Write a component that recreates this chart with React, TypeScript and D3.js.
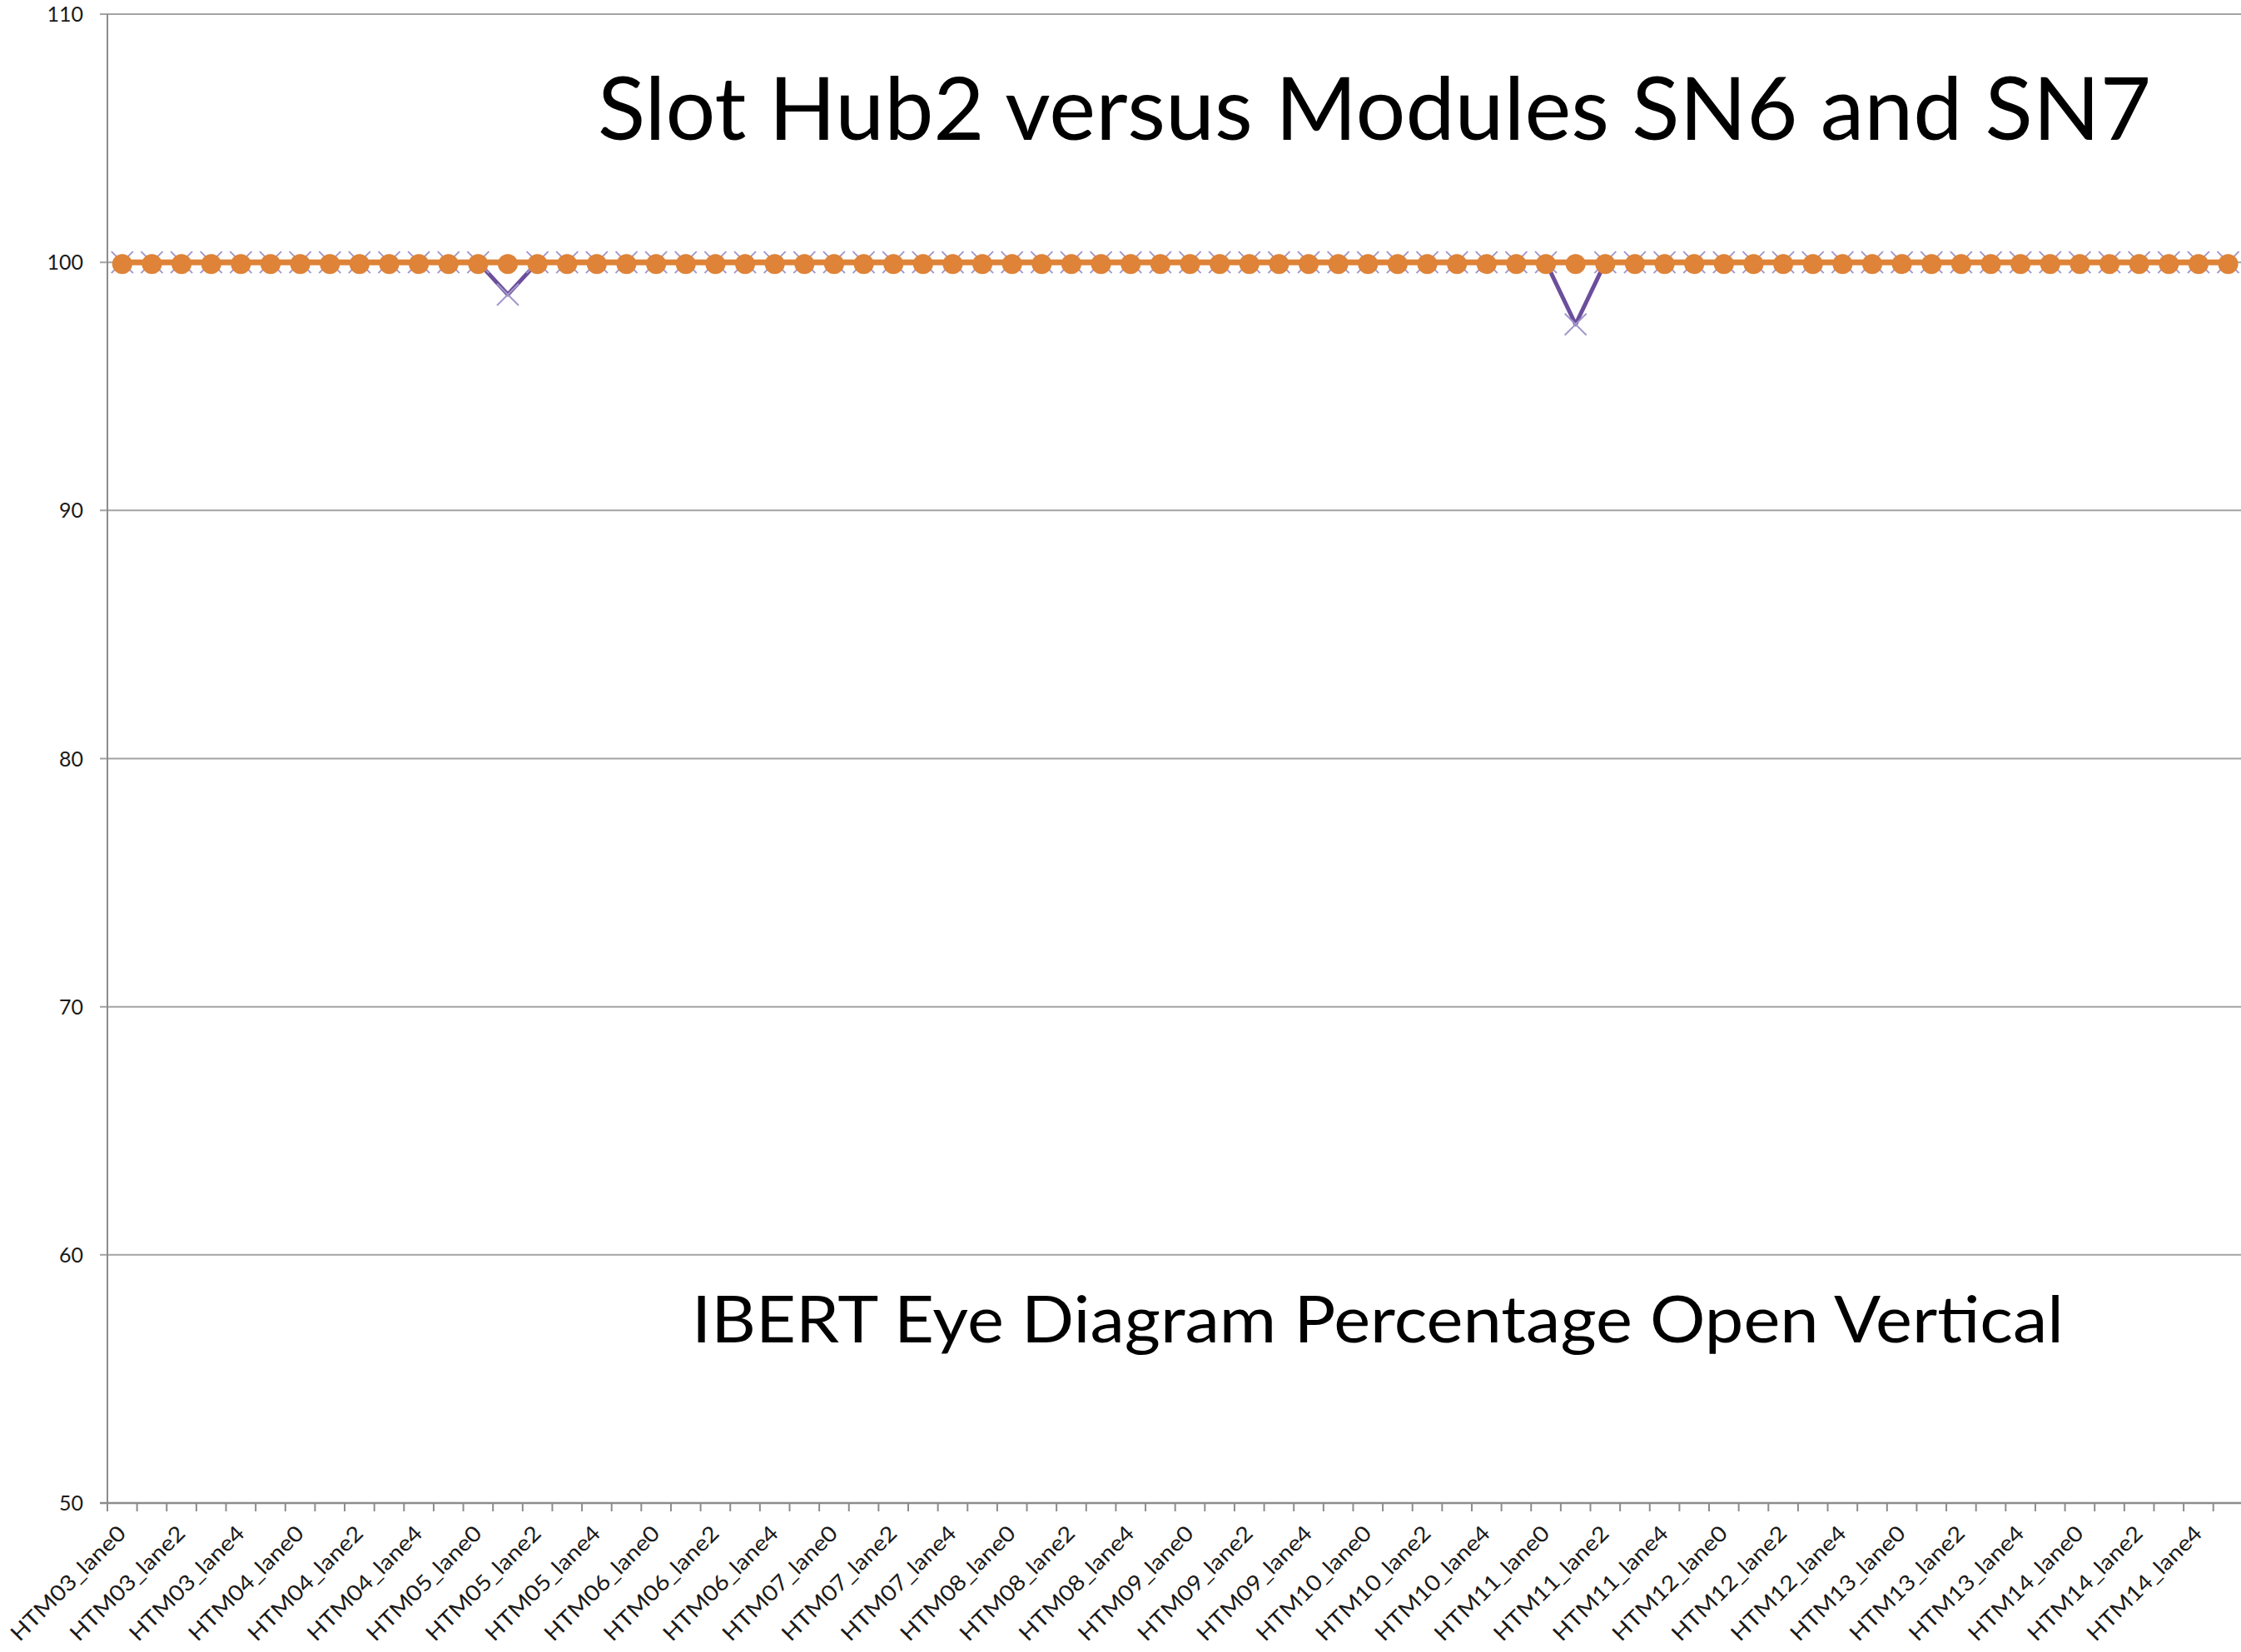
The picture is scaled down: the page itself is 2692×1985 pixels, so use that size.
import React, { useEffect, useRef } from 'react';
import * as d3 from 'd3';

// category names along the x axis (12 modules x 6 lanes)
const categories = [
  'HTM03_lane0', 'HTM03_lane1', 'HTM03_lane2', 'HTM03_lane3', 'HTM03_lane4', 'HTM03_lane5',
  'HTM04_lane0', 'HTM04_lane1', 'HTM04_lane2', 'HTM04_lane3', 'HTM04_lane4', 'HTM04_lane5',
  'HTM05_lane0', 'HTM05_lane1', 'HTM05_lane2', 'HTM05_lane3', 'HTM05_lane4', 'HTM05_lane5',
  'HTM06_lane0', 'HTM06_lane1', 'HTM06_lane2', 'HTM06_lane3', 'HTM06_lane4', 'HTM06_lane5',
  'HTM07_lane0', 'HTM07_lane1', 'HTM07_lane2', 'HTM07_lane3', 'HTM07_lane4', 'HTM07_lane5',
  'HTM08_lane0', 'HTM08_lane1', 'HTM08_lane2', 'HTM08_lane3', 'HTM08_lane4', 'HTM08_lane5',
  'HTM09_lane0', 'HTM09_lane1', 'HTM09_lane2', 'HTM09_lane3', 'HTM09_lane4', 'HTM09_lane5',
  'HTM10_lane0', 'HTM10_lane1', 'HTM10_lane2', 'HTM10_lane3', 'HTM10_lane4', 'HTM10_lane5',
  'HTM11_lane0', 'HTM11_lane1', 'HTM11_lane2', 'HTM11_lane3', 'HTM11_lane4', 'HTM11_lane5',
  'HTM12_lane0', 'HTM12_lane1', 'HTM12_lane2', 'HTM12_lane3', 'HTM12_lane4', 'HTM12_lane5',
  'HTM13_lane0', 'HTM13_lane1', 'HTM13_lane2', 'HTM13_lane3', 'HTM13_lane4', 'HTM13_lane5',
  'HTM14_lane0', 'HTM14_lane1', 'HTM14_lane2', 'HTM14_lane3', 'HTM14_lane4', 'HTM14_lane5',
];

// SN6 (purple, x markers)
const sn6 = [
  100, 100, 100, 100, 100, 100,
  100, 100, 100, 100, 100, 100,
  100, 98.7, 100, 100, 100, 100,
  100, 100, 100, 100, 100, 100,
  100, 100, 100, 100, 100, 100,
  100, 100, 100, 100, 100, 100,
  100, 100, 100, 100, 100, 100,
  100, 100, 100, 100, 100, 100,
  100, 97.5, 100, 100, 100, 100,
  100, 100, 100, 100, 100, 100,
  100, 100, 100, 100, 100, 100,
  100, 100, 100, 100, 100, 100,
];

// SN7 (orange, circle markers)
const sn7 = [
  100, 100, 100, 100, 100, 100,
  100, 100, 100, 100, 100, 100,
  100, 100, 100, 100, 100, 100,
  100, 100, 100, 100, 100, 100,
  100, 100, 100, 100, 100, 100,
  100, 100, 100, 100, 100, 100,
  100, 100, 100, 100, 100, 100,
  100, 100, 100, 100, 100, 100,
  100, 100, 100, 100, 100, 100,
  100, 100, 100, 100, 100, 100,
  100, 100, 100, 100, 100, 100,
  100, 100, 100, 100, 100, 100,
];

const yTicks = [50, 60, 70, 80, 90, 100, 110];

const title = 'Slot Hub2 versus Modules SN6 and SN7';
const subtitle = 'IBERT Eye Diagram Percentage Open Vertical';

const W = 2692, H = 1985;
const FONT = 'Lato, "Open Sans", sans-serif';

export default function App() {
  const svgRef = useRef<SVGSVGElement>(null);

  useEffect(() => {
    const svg = d3.select(svgRef.current);
    svg.selectAll('*').remove();

    const left = 129, top = 17, bottom = 1806;
    const step = 35.63;

    const x = d3.scaleBand<string>()
      .domain(categories)
      .range([left, left + step * categories.length])
      .padding(0);

    const y = d3.scaleLinear()
      .domain([50, 110])
      .range([bottom, top]);

    // gridlines
    svg.append('g')
      .selectAll('line')
      .data(yTicks)
      .enter()
      .append('line')
      .attr('x1', left - 9)
      .attr('x2', W)
      .attr('y1', d => y(d))
      .attr('y2', d => y(d))
      .attr('stroke', '#a3a3a3')
      .attr('stroke-width', 2);

    // y axis line
    svg.append('line')
      .attr('x1', left).attr('x2', left)
      .attr('y1', top).attr('y2', bottom + 10)
      .attr('stroke', '#8c8c8c')
      .attr('stroke-width', 2);

    // y tick labels
    svg.append('g')
      .selectAll('text')
      .data(yTicks)
      .enter()
      .append('text')
      .attr('x', 100)
      .attr('y', d => y(d))
      .attr('dy', '0.36em')
      .attr('text-anchor', 'end')
      .attr('font-family', FONT)
      .attr('font-size', 25)
      .attr('fill', '#1a1a1a')
      .text(d => d);

    // x axis line and category ticks
    svg.append('line')
      .attr('x1', left - 9).attr('x2', W)
      .attr('y1', bottom).attr('y2', bottom)
      .attr('stroke', '#8c8c8c')
      .attr('stroke-width', 2.5);

    svg.append('g')
      .selectAll('line')
      .data(categories)
      .enter()
      .append('line')
      .attr('x1', d => x(d)!)
      .attr('x2', d => x(d)!)
      .attr('y1', bottom)
      .attr('y2', bottom + 10)
      .attr('stroke', '#8c8c8c')
      .attr('stroke-width', 2);

    // x labels, every other category
    svg.append('g')
      .selectAll('text')
      .data(categories.filter((_, i) => i % 2 === 0))
      .enter()
      .append('text')
      .attr('transform', d => `translate(${x(d)! + x.bandwidth() / 2 + 6},${bottom + 38}) rotate(-45)`)
      .attr('text-anchor', 'end')
      .attr('font-family', FONT)
      .attr('font-size', 26)
      .attr('textLength', 183)
      .attr('lengthAdjust', 'spacingAndGlyphs')
      .attr('fill', '#1a1a1a')
      .text(d => d);

    const cx = (i: number) => x(categories[i])! + x.bandwidth() / 2;

    // SN6 line + x markers
    const line6 = d3.line<number>().x((_, i) => cx(i)).y(d => y(d));
    svg.append('path')
      .attr('d', line6(sn6))
      .attr('fill', 'none')
      .attr('stroke', '#6b4f9b')
      .attr('stroke-width', 5)
      .attr('stroke-linejoin', 'round');

    const s = 13;
    svg.append('g')
      .selectAll('path')
      .data(sn6)
      .enter()
      .append('path')
      .attr('d', (d, i) => `M${cx(i) - s},${y(d) - s}L${cx(i) + s},${y(d) + s}M${cx(i) - s},${y(d) + s}L${cx(i) + s},${y(d) - s}`)
      .attr('stroke', '#a397cc')
      .attr('stroke-width', 2)
      .attr('fill', 'none');

    // SN7 line + circle markers
    const line7 = d3.line<number>().x((_, i) => cx(i)).y(d => y(d));
    svg.append('path')
      .attr('d', line7(sn7))
      .attr('fill', 'none')
      .attr('stroke', '#de8338')
      .attr('stroke-width', 7);

    svg.append('g')
      .selectAll('circle')
      .data(sn7)
      .enter()
      .append('circle')
      .attr('cx', (_, i) => cx(i))
      .attr('cy', d => y(d) + 2)
      .attr('r', 12)
      .attr('fill', '#de8338');

    // titles inside the plot area
    svg.append('text')
      .attr('x', 718)
      .attr('y', 168)
      .attr('font-family', FONT)
      .attr('font-size', 105)
      .attr('textLength', 1866)
      .attr('lengthAdjust', 'spacingAndGlyphs')
      .attr('fill', '#000')
      .text(title);

    svg.append('text')
      .attr('x', 831)
      .attr('y', 1613)
      .attr('font-family', FONT)
      .attr('font-size', 77)
      .attr('textLength', 1648)
      .attr('lengthAdjust', 'spacingAndGlyphs')
      .attr('fill', '#000')
      .text(subtitle);
  }, []);

  return (
    <div style={{ position: 'absolute', left: 0, top: 0, background: '#fff' }}>
      <svg ref={svgRef} width={W} height={H} style={{ display: 'block' }} />
    </div>
  );
}
